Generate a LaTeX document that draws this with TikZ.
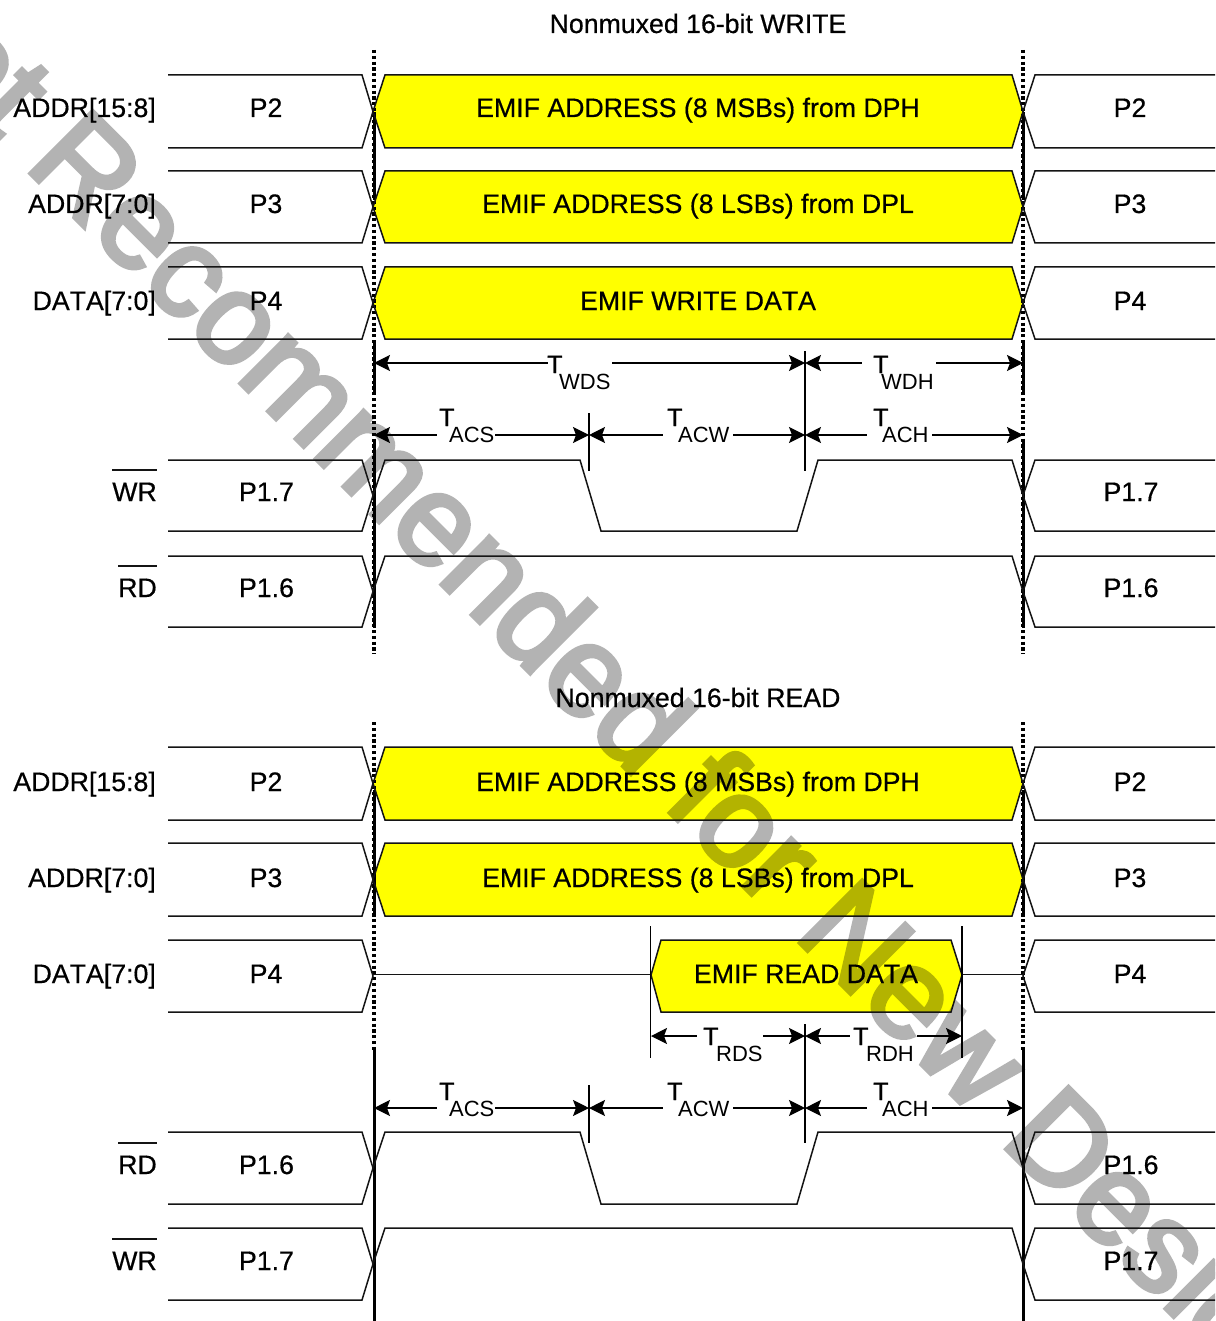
\documentclass[tikz,border=0pt]{standalone}
\usepackage{fontspec}
\setmainfont{Liberation Sans}
\newfontfamily\wmfont[FakeBold=3.5]{Liberation Sans}
\newfontfamily\labfont[FakeBold=0.5,Kerning=Off]{Liberation Sans}
\newfontfamily\tfont[FakeBold=1.2]{Liberation Sans}
\usetikzlibrary{arrows.meta}
\definecolor{sigline}{HTML}{141414}
\definecolor{wmgrey}{HTML}{B3B3B3}
\definecolor{busyellow}{RGB}{255,255,0}
\tikzset{
  sig/.style={draw=sigline,line width=1.5pt,line join=miter},
  tick/.style={draw=black,line width=1.4pt},
  dimline/.style={draw=black,line width=1.3pt},
  tipl/.style={dimline,{Stealth[length=16pt,width=16pt,inset=3pt]}-},
  tipr/.style={dimline,-{Stealth[length=16pt,width=16pt,inset=3pt]}},
  lab/.style={font=\labfont\fontsize{26.7}{26.7}\selectfont,inner sep=0pt,text=black},
  rowlab/.style={lab,anchor=base east},
  vallab/.style={lab,anchor=base},
  barlab/.style={draw=sigline,line width=1.3pt},
  solidv/.style={draw=black,line width=3pt},
  dashv/.style={draw=black,line width=4pt,dash pattern=on 3.2pt off 2.6pt},
}
\newcommand{\stubs}[2]{%
  \draw[sig] (168,#1) -- (362,#1) -- (373,{(#1+#2)/2}) -- (362,#2) -- (168,#2);
  \draw[sig] (1215,#1) -- (1035,#1) -- (1023,{(#1+#2)/2}) -- (1035,#2) -- (1215,#2);}
% yellow hexagon: tinted over the watermark, then outlined
\newcommand{\ybus}[1]{%
  \begin{scope}[blend mode=multiply]\fill[busyellow] #1;\end{scope}
  \draw[sig] #1;}
\newcommand{\dimarrow}[6]{%
  \coordinate (#1a) at (#2,#6); \coordinate (#1b) at (#4,#6);
  \coordinate (#1c) at (#5,#6); \coordinate (#1d) at (#3,#6);
  \draw[tipl] (#1a) -- (#1b);
  \draw[tipr] (#1c) -- (#1d);}
\newcommand{\tlab}[5]{%
  \node[anchor=base west,inner sep=0pt] (#1) at (#2,#3)
   {\tfont\fontsize{25}{25}\selectfont T\kern#5pt\raisebox{-16pt}{\normalfont\fontsize{22}{22}\selectfont #4}};}
\begin{document}
\begin{tikzpicture}[x=1pt,y=-1pt]
\useasboundingbox (0,0) rectangle (1215,1321);
\fill[white] (0,0) rectangle (1215,1321);

% watermark goes first; the yellow is multiplied over it
\begin{scope}
\clip (0,0) rectangle (1215,1321);
\node[anchor=base west,inner sep=0pt,rotate=-45,font=\wmfont\fontsize{128}{128}\selectfont] (wm) at (-143,0) {\special{pdf:code 0.702 0.702 0.702 RG 0.702 0.702 0.702 rg}\color{wmgrey}Not Recommended for New Designs};
\end{scope}

\node[vallab] (title1) at (698,33) {Nonmuxed 16-bit WRITE};
\node[vallab] (title2) at (698,707) {Nonmuxed 16-bit READ};

\foreach \vx in {374,1023}{
  \draw[dashv] (\vx,50) -- (\vx,654);
  \draw[dashv] (\vx,722) -- (\vx,1050);
  \draw[solidv] (\vx,112) -- (\vx,200);
  \draw[solidv] (\vx,340) -- (\vx,395);
  \draw[solidv] (\vx,440) -- (\vx,628);
  \draw[solidv] (\vx,790) -- (\vx,915);
  \draw[solidv] (\vx,1050) -- (\vx,1321);
}

\stubs{75}{148}
\stubs{171}{243}
\stubs{267}{339}
\stubs{460}{531}
\stubs{556}{627}
\ybus{(373,111.5) -- (385,75) -- (1012,75) -- (1023,111.5) -- (1012,148) -- (385,148) -- cycle}
\ybus{(373,207) -- (385,171) -- (1012,171) -- (1023,207) -- (1012,243) -- (385,243) -- cycle}
\ybus{(373,303) -- (385,267) -- (1012,267) -- (1023,303) -- (1012,339) -- (385,339) -- cycle}
\draw[sig] (373,495.5) -- (385,460) -- (580,460) -- (601,531) -- (797,531) -- (818,460) -- (1012,460) -- (1023,495.5);
\draw[sig] (373,591.5) -- (385,556) -- (1012,556) -- (1023,591.5);

\node[rowlab] (wa1) at (156,117) {ADDR[15:8]};
\node[rowlab] (wa0) at (156,213) {ADDR[7:0]};
\node[rowlab] (wd)  at (156,310) {DATA[7:0]};
\node[rowlab] (wwr) at (157,501) {WR};
\node[rowlab] (wrd) at (157,597) {RD};
\draw[barlab] (wwr.north west |- 0,470) -- (wwr.north east |- 0,470);
\draw[barlab] (wrd.north west |- 0,566) -- (wrd.north east |- 0,566);

\node[vallab] (wp2l) at (266,117) {P2};
\node[vallab] (wp3l) at (266,213) {P3};
\node[vallab] (wp4l) at (266,310) {P4};
\node[vallab] (wp7l) at (266.5,501) {P1.7};
\node[vallab] (wp6l) at (266.5,597) {P1.6};
\node[vallab] (wp2r) at (1130,117) {P2};
\node[vallab] (wp3r) at (1130,213) {P3};
\node[vallab] (wp4r) at (1130,310) {P4};
\node[vallab] (wp7r) at (1131,501) {P1.7};
\node[vallab] (wp6r) at (1131,597) {P1.6};
\node[vallab] (wb1) at (698,117) {EMIF ADDRESS (8 MSBs) from DPH};
\node[vallab] (wb2) at (698,213) {EMIF ADDRESS (8 LSBs) from DPL};
\node[vallab] (wb3) at (698,310) {EMIF WRITE DATA};

\coordinate (wt1a) at (805,351); \coordinate (wt1b) at (805,471);
\coordinate (wt2a) at (589,413); \coordinate (wt2b) at (589,471);
\draw[tick] (wt1a) -- (wt1b);
\draw[tick] (wt2a) -- (wt2b);
\dimarrow{dwds}{374}{805}{548}{612}{363}
\dimarrow{dwdh}{805}{1023}{862}{936}{363}
\dimarrow{dacs}{374}{589}{437}{495}{435}
\dimarrow{dacw}{589}{805}{663}{733}{435}
\dimarrow{dach}{805}{1023}{867}{932}{435}
\tlab{twds}{547}{373}{WDS}{-3.3}
\tlab{twdh}{873}{373}{WDH}{-7.3}
\tlab{tacs}{439}{426}{ACS}{-5.3}
\tlab{tacw}{667}{426}{ACW}{-4.3}
\tlab{tach}{873}{426}{ACH}{-6.3}

\stubs{747}{820}
\stubs{843}{916}
\stubs{940}{1012}
\stubs{1132}{1204}
\stubs{1228}{1300}
\ybus{(373,783.5) -- (385,747) -- (1012,747) -- (1023,783.5) -- (1012,820) -- (385,820) -- cycle}
\ybus{(373,879.5) -- (385,843) -- (1012,843) -- (1023,879.5) -- (1012,916) -- (385,916) -- cycle}
\draw[sig] (373,974.5) -- (651,974.5);
\draw[sig] (962,974.5) -- (1023,974.5);
\ybus{(651,975) -- (661,940) -- (951,940) -- (962,975) -- (951,1012) -- (661,1012) -- cycle}
\draw[sig] (373,1168) -- (385,1132) -- (580,1132) -- (601,1204) -- (797,1204) -- (818,1132) -- (1012,1132) -- (1023,1168);
\draw[sig] (373,1264) -- (385,1228) -- (1012,1228) -- (1023,1264);

\node[rowlab] (ra1) at (156,791) {ADDR[15:8]};
\node[rowlab] (ra0) at (156,887) {ADDR[7:0]};
\node[rowlab] (rd)  at (156,983) {DATA[7:0]};
\node[rowlab] (rrd) at (157,1174) {RD};
\node[rowlab] (rwr) at (157,1270) {WR};
\draw[barlab] (rrd.north west |- 0,1143) -- (rrd.north east |- 0,1143);
\draw[barlab] (rwr.north west |- 0,1239) -- (rwr.north east |- 0,1239);

\node[vallab] (rp2l) at (266,791) {P2};
\node[vallab] (rp3l) at (266,887) {P3};
\node[vallab] (rp4l) at (266,983) {P4};
\node[vallab] (rp6l) at (266.5,1174) {P1.6};
\node[vallab] (rp7l) at (266.5,1270) {P1.7};
\node[vallab] (rp2r) at (1130,791) {P2};
\node[vallab] (rp3r) at (1130,887) {P3};
\node[vallab] (rp4r) at (1130,983) {P4};
\node[vallab] (rp6r) at (1131,1174) {P1.6};
\node[vallab] (rp7r) at (1131,1270) {P1.7};
\node[vallab] (rb1) at (698,791) {EMIF ADDRESS (8 MSBs) from DPH};
\node[vallab] (rb2) at (698,887) {EMIF ADDRESS (8 LSBs) from DPL};
\node[vallab] (rb3) at (806,983) {EMIF READ DATA};

\coordinate (rt1a) at (805,1024); \coordinate (rt1b) at (805,1143);
\coordinate (rt2a) at (589,1085); \coordinate (rt2b) at (589,1143);
\coordinate (rt3a) at (650.5,926); \coordinate (rt3b) at (650.5,1058);
\coordinate (rt4a) at (962,926);  \coordinate (rt4b) at (962,1058);
\draw[tick] (rt1a) -- (rt1b);
\draw[tick] (rt2a) -- (rt2b);
\draw[tick] (rt3a) -- (rt3b);
\draw[tick] (rt4a) -- (rt4b);
\dimarrow{drds}{651}{805}{697}{763}{1036}
\dimarrow{drdh}{805}{962}{850}{917}{1036}
\dimarrow{dacsr}{374}{589}{437}{495}{1108}
\dimarrow{dacwr}{589}{805}{663}{733}{1108}
\dimarrow{dachr}{805}{1023}{867}{932}{1108}
\tlab{trds}{703}{1045}{RDS}{-2.3}
\tlab{trdh}{853}{1045}{RDH}{-2.3}
\tlab{tacsr}{439}{1100}{ACS}{-5.3}
\tlab{tacwr}{667}{1100}{ACW}{-4.3}
\tlab{tachr}{873}{1100}{ACH}{-6.3}
\end{tikzpicture}
\end{document}
